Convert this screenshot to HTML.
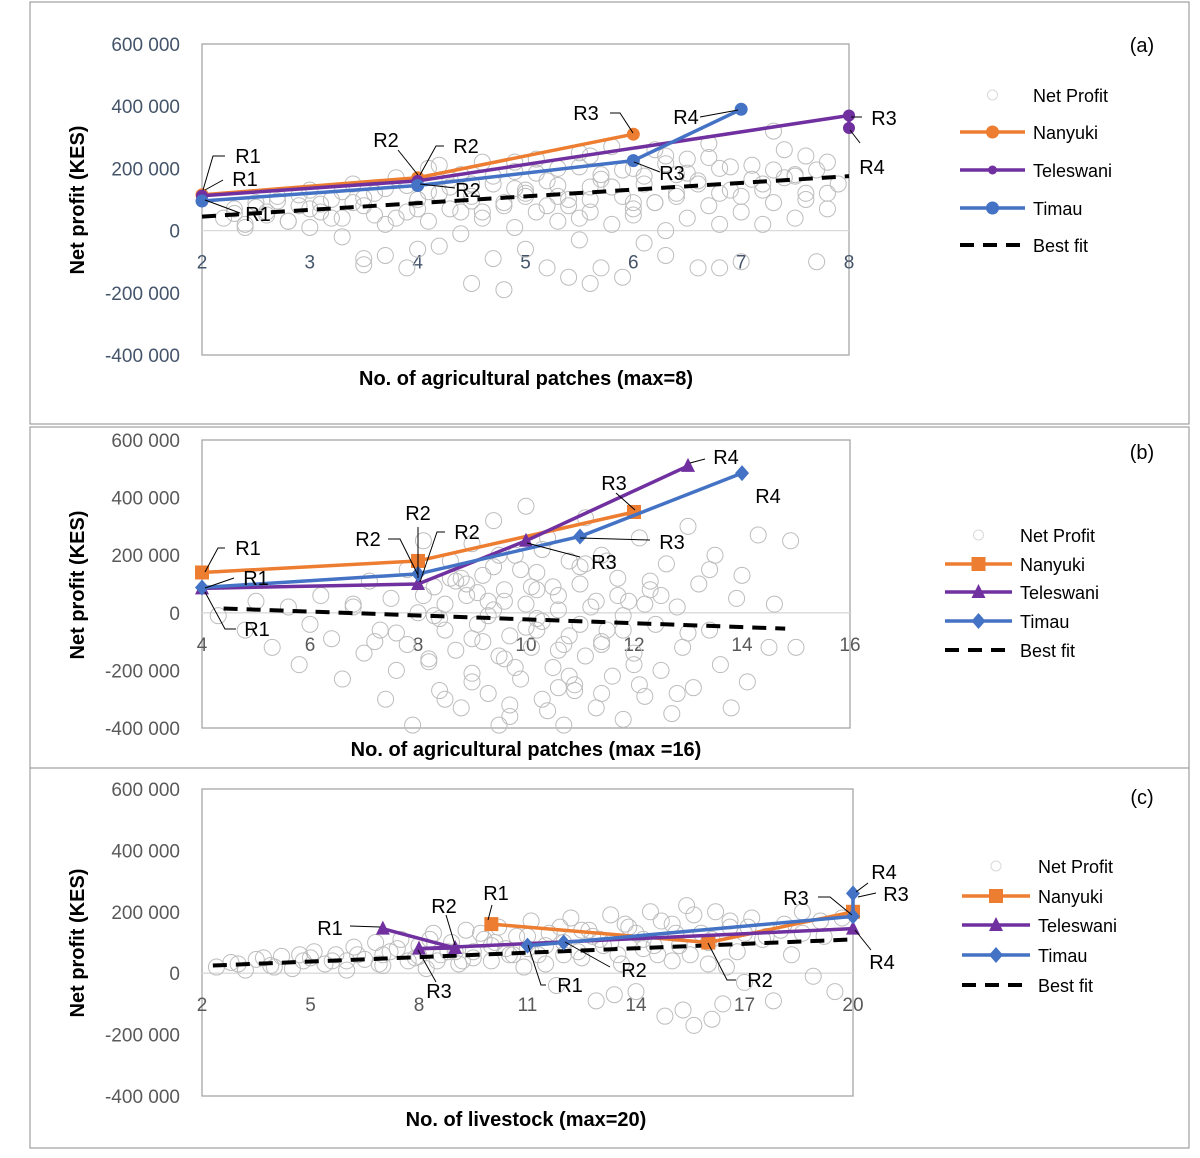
<!DOCTYPE html>
<html><head><meta charset="utf-8"><style>
html,body{margin:0;padding:0;background:#fff;}
svg{display:block;font-family:"Liberation Sans",sans-serif;}
</style></head><body>
<svg id="fig" width="1200" height="1158" viewBox="0 0 1200 1158" xmlns="http://www.w3.org/2000/svg"></svg>
<script>
// ---------- data ----------
const aScatterX=[2.2,2.3,2.4,2.5,2.6,2.7,2.8,2.9,3.0,3.0,3.1,3.2,3.3,3.3,3.4,3.5,3.5,3.6,3.7,3.7,3.8,3.9,3.9,4.0,4.1,4.1,4.2,4.3,4.3,4.4,4.4,4.5,4.5,4.6,4.6,4.7,4.7,4.8,4.8,4.9,4.9,5.0,5.0,5.1,5.1,5.2,5.2,5.3,5.3,5.4,5.4,5.5,5.5,5.6,5.6,5.7,5.7,5.8,5.8,5.9,5.9,6.0,6.0,6.1,6.1,6.2,6.2,6.3,6.3,6.4,6.4,6.5,6.5,6.6,6.6,6.7,6.7,6.8,6.8,6.9,7.0,7.0,7.1,7.2,7.2,7.3,7.4,7.5,7.5,7.6,7.7,7.8,7.8,7.9,7.3,7.6,3.5,4.0,5.6,6.8,2.6,3.4,4.2,5.0,5.8,6.6,7.4,
2.3,2.5,2.7,2.9,3.1,3.3,3.5,3.7,3.9,4.1,4.3,4.5,4.7,4.9,5.1,5.3,5.5,5.7,5.9,6.1,6.3,6.5,6.7,6.9,7.1,7.3,7.5,7.7,2.4,2.8,3.2,3.6,4.0,4.4,4.8,5.2,5.6,6.0,6.4,6.8,7.2,7.6,3.0,3.8,4.6,5.4,6.2,7.0,7.8,4.2,4.9,5.6,6.3,5.0,5.5,6.0,4.5,5.3];
const aScatterY=[40,70,20,90,50,110,30,80,10,130,60,100,-20,40,150,80,-110,120,20,-80,170,60,-120,100,30,200,-50,140,70,-10,180,110,-170,40,220,-90,150,80,-190,190,10,120,-60,230,60,160,-120,30,200,100,-150,250,-30,140,60,180,-120,20,270,110,-150,200,50,-40,150,260,90,0,-80,180,120,40,230,-120,160,80,280,20,200,130,-100,60,210,150,20,90,260,180,40,120,-100,220,70,150,320,240,-90,-60,-170,-120,60,90,120,110,140,150,170,
55,75,95,115,85,125,105,135,145,125,165,95,175,135,185,145,205,165,195,175,215,185,235,205,165,195,175,195,10,30,40,50,70,60,90,80,100,90,110,120,130,100,70,40,60,80,90,110,120,210,220,240,240,130,40,70,150,110];
const aNanX=[2,4,6], aNanY=[115,170,310];
const aTelX=[2,4,8,8], aTelY=[112,160,370,330];
const aTimX=[2,4,6,7], aTimY=[95,145,225,390];
const aFitX=[2,8], aFitY=[45,175];

const bScatterX=[4.3,4.8,5.0,5.3,5.6,5.8,6.0,6.2,6.4,6.6,6.8,7.0,7.1,7.3,7.4,7.5,7.6,7.8,7.8,7.9,8.0,8.1,8.2,8.3,8.4,8.5,8.5,8.6,8.7,8.8,8.9,9.0,9.0,9.1,9.2,9.3,9.4,9.4,9.5,9.6,9.7,9.7,9.8,9.9,10.0,10.0,10.1,10.2,10.3,10.3,10.4,10.5,10.6,10.7,10.8,10.8,10.9,11.0,11.1,11.1,11.2,11.3,11.4,11.5,11.6,11.7,11.8,11.9,12.0,12.1,12.2,12.3,12.4,12.5,12.6,12.7,12.8,12.9,13.0,13.1,13.2,13.4,13.5,13.6,13.8,13.9,14.0,14.1,14.3,14.5,14.6,14.9,15.0,9.5,10.4,8.3,9.2,10.6,11.4,12.5,8.8,9.6,10.2,11.0,11.8,
8.1,8.4,8.7,9.0,9.3,9.6,9.9,10.2,10.5,10.8,11.1,11.4,11.7,12.0,12.3,8.2,8.6,9.0,9.4,9.8,10.2,10.6,11.0,11.4,11.8,12.2,8.5,9.1,9.7,10.3,10.9,11.5,12.1,7.6,7.2,6.8,13.0,13.4,12.8,9.3,10.0,10.7,11.3,8.9,9.5,10.1,10.6];
const bScatterY=[-10,-60,40,-120,20,-180,-40,60,-90,-230,20,-140,110,-60,-300,50,-200,150,-110,-390,0,250,-170,90,-270,30,-60,180,-130,-330,60,-210,240,-40,130,-280,10,320,-150,80,-360,-80,200,-230,30,370,-120,140,-300,-30,260,-190,60,-390,180,-80,-250,100,330,-150,20,-330,200,-60,-220,120,-370,40,-140,260,-290,80,-40,-200,170,-350,20,-120,300,-260,100,-60,200,-180,-330,50,130,-240,270,-120,30,250,-120,-390,-340,-10,-100,-130,-100,60,120,40,-20,160,-60,
60,-20,110,-90,40,-160,150,-60,90,-220,170,-110,60,-180,110,-160,120,-240,160,-190,80,-260,-40,-280,-10,30,-300,70,-320,220,-270,180,-250,-70,-100,30,-70,150,-280,-10,-50,-110,40,100,200,90,10];
const bNanX=[4,8,12], bNanY=[140,180,350];
const bTelX=[4,8,10,13], bTelY=[85,100,250,510];
const bTimX=[4,8,11,14], bTimY=[88,135,265,485];
const bFitX=[4.4,14.8], bFitY=[15,-55];

const cScatterX=[2.4,2.8,3.2,3.5,3.9,4.2,4.5,4.8,5.1,5.4,5.7,6.0,6.2,6.5,6.8,7.0,7.2,7.5,7.7,8.0,8.2,8.4,8.6,8.9,9.1,9.3,9.5,9.8,10.0,10.2,10.4,10.7,10.9,11.1,11.3,11.6,11.8,12.0,12.2,12.5,12.7,12.9,13.1,13.3,13.6,13.8,14.0,14.2,14.4,14.6,14.8,15.0,15.2,15.4,15.6,15.8,16.0,16.2,16.4,16.6,16.8,17.0,17.2,17.5,17.8,18.0,18.3,18.6,18.9,19.2,19.5,19.7,3.0,4.0,5.0,6.0,7.0,8.0,9.0,10.0,11.0,12.0,13.0,14.0,15.0,16.0,17.0,15.3,16.1,13.4,
6.3,6.9,7.4,7.9,8.3,8.8,9.2,9.7,10.1,10.6,11.0,11.5,11.9,12.4,12.8,13.3,13.7,14.2,14.7,15.1,15.6,16.1,16.6,17.1,17.6,18.1,18.6,19.1,8.5,9.5,10.5,11.5,12.5,13.5,14.5,15.5,16.5,4.7,5.6,3.7];
const cScatterY=[20,35,10,45,25,55,15,40,70,30,60,10,85,45,100,25,70,110,40,90,15,130,60,100,30,140,70,110,40,150,80,120,20,170,60,130,-40,100,180,50,140,-90,90,190,30,150,-60,110,200,60,-140,160,90,220,-170,130,30,200,-100,150,70,-30,180,110,-90,140,60,200,-10,120,-60,180,30,20,50,40,60,55,70,90,80,60,110,130,40,100,130,-120,-150,-70,
60,30,80,50,110,70,40,130,100,60,120,90,150,70,120,100,160,80,170,130,190,110,170,150,120,160,130,170,40,50,60,30,140,60,90,60,20,60,40,50];
const cNanX=[10,16,20], cNanY=[160,100,200];
const cTelX=[7,9,8,20], cTelY=[145,82,80,145];
const cTimX=[11,12,20,20], cTimY=[90,100,185,260];
const cFitX=[2.3,20], cFitY=[25,110];

const yTicks=[600,400,200,0,-200,-400];
const aXTicks=[2,3,4,5,6,7,8];
const bXTicks=[4,6,8,10,12,14,16];
const cXTicks=[2,5,8,11,14,17,20];

// ---------- drawing ----------
const NS="http://www.w3.org/2000/svg";
const svg=document.getElementById('fig');
function el(tag,attrs,parent){const e=document.createElementNS(NS,tag);for(const k in attrs)e.setAttribute(k,attrs[k]);(parent||svg).appendChild(e);return e;}
const OR='#ED7D31',PU='#7030A0',BL='#4472C4';
function fmt(v){if(v===0)return '0';const s=Math.abs(v)+' 000';return (v<0?'-':'')+s;}

function panel(cfg){
  const g=el('g',{});
  
  
  const sx=v=>cfg.px0+(v-cfg.x0)/(cfg.x1-cfg.x0)*(cfg.px1-cfg.px0);
  const sy=v=>cfg.py0+(600-v)/1000*(cfg.py1-cfg.py0);
  const fr=el('rect',{x:30,y:cfg.fy0,width:1159,height:cfg.fy1-cfg.fy0,fill:'none',stroke:'#8c8c8c','stroke-width':1},g);
  
  
  const pb=el('rect',{x:cfg.px0,y:cfg.py0,width:cfg.px1-cfg.px0,height:cfg.py1-cfg.py0,fill:'none',stroke:'#a6a6a6','stroke-width':1.3},g);
  
  
  const zl=el('line',{x1:cfg.px0,x2:cfg.px1,y1:sy(0),y2:sy(0),stroke:'#d9d9d9','stroke-width':1.3},g);
  
  
  yTicks.forEach(v=>{const t=el('text',{x:180,y:sy(v)+7,'text-anchor':'end','font-size':19,fill:cfg.tickColor},g);t.textContent=fmt(v);
    
    });
  cfg.xTicks.forEach(v=>{const t=el('text',{x:sx(v),y:sy(0)+38,'text-anchor':'middle','font-size':19,fill:cfg.tickColor},g);t.textContent=v;
    
    });
  const yt=el('text',{x:0,y:0,transform:`translate(84,${cfg.ytY}) rotate(-90)`,'text-anchor':'middle','font-size':20,'font-weight':'bold'},g);
  yt.textContent='Net profit (KES)';
  
  
  const xt=el('text',{x:526,y:cfg.xtY,'text-anchor':'middle','font-size':20,'font-weight':'bold'},g);
  xt.textContent=cfg.xTitle;
  
  
  const pl=el('text',{x:1142,y:cfg.letterY,'text-anchor':'middle','font-size':20},g);
  pl.textContent=cfg.letter;
  
  
  cfg.sx.forEach((x,i)=>{const c=el('circle',{cx:sx(x),cy:sy(cfg.sy[i]),r:8,fill:'none',stroke:'#bdbdbd','stroke-width':1},g);
    
    });
  const bf=el('line',{x1:sx(cfg.fit[0][0]),y1:sy(cfg.fit[1][0]),x2:sx(cfg.fit[0][1]),y2:sy(cfg.fit[1][1]),stroke:'#000','stroke-width':4,'stroke-dasharray':'14 9'},g);
  
  
  cfg.series.forEach(s=>{
    const pts=s.x.map((x,i)=>sx(x)+','+sy(s.y[i])).join(' ');
    const p=el('polyline',{points:pts,fill:'none',stroke:s.color,'stroke-width':3.5,'stroke-linejoin':'round'},g);
    
    
    s.x.forEach((x,i)=>{const m=marker(g,s.shape,sx(x),sy(s.y[i]),s.color,s.size);
      
      });
  });
  cfg.ann.forEach(a=>{
    const l=el('polyline',{points:a[3],fill:'none',stroke:'#000','stroke-width':1},g);
    
    
    const t=el('text',{x:a[1],y:a[2]+7,'text-anchor':'middle','font-size':20},g);
    t.textContent=a[0];
    
    
  });
  const L=cfg.leg;
  const names=['Net Profit','Nanyuki','Teleswani','Timau','Best fit'];
  names.forEach((n,i)=>{
    const y=L.ys[i];const mx=(L.x0+L.x1)/2;
    if(i===0){const c=el('circle',{cx:mx,cy:y,r:5,fill:'none',stroke:'#d9d9d9'},g);
      
      }
    else if(i===4){const l=el('line',{x1:L.x0,x2:L.x1,y1:y,y2:y,stroke:'#000','stroke-width':4,'stroke-dasharray':'14 9'},g);
      
      }
    else{const s=cfg.series[i-1];
      const l=el('line',{x1:L.x0,x2:L.x1,y1:y,y2:y,stroke:s.color,'stroke-width':3.5},g);
      
      
      const m=marker(g,s.shape,mx,y,s.color,s.size*(i===2&&cfg.id==='a'?0.75:1));
      
      }
    const t=el('text',{x:L.tx,y:y+7,'font-size':18},g);
    t.textContent=n;
    
    
  });
}
function marker(g,shape,x,y,color,s){
  if(shape==='circle')return el('circle',{cx:x,cy:y,r:s,fill:color},g);
  if(shape==='square')return el('rect',{x:x-s,y:y-s,width:2*s,height:2*s,fill:color},g);
  if(shape==='tri')return el('polygon',{points:`${x},${y-s-1} ${x-s},${y+s-1} ${x+s},${y+s-1}`,fill:color},g);
  return el('polygon',{points:`${x},${y-s-1} ${x+s},${y} ${x},${y+s+1} ${x-s},${y}`,fill:color},g);
}

panel({id:'a',fy0:2,fy1:424,px0:202,px1:849,py0:44,py1:355,x0:2,x1:8,xTicks:aXTicks,tickColor:'#44546A',
  ytY:200,xtY:385,xTitle:'No. of agricultural patches (max=8)',letter:'(a)',letterY:52,
  sx:aScatterX,sy:aScatterY,fit:[aFitX,aFitY],
  series:[{name:'nanyuki',x:aNanX,y:aNanY,color:OR,shape:'circle',size:6.5},
          {name:'teleswani',x:aTelX,y:aTelY,color:PU,shape:'circle',size:6},
          {name:'timau',x:aTimX,y:aTimY,color:BL,shape:'circle',size:6.5}],
  ann:[['R1',248,156,'225,156 213,156 203,190'],['R1',245,179,'223,180 205,190'],['R1',258,214,'240,213 205,200'],
       ['R2',386,140,'398,150 418,175'],['R2',466,146,'444,146 436,146 420,175'],['R2',468,190,'455,188 420,184'],
       ['R3',586,113,'610,113 620,113 633,133'],['R3',672,173,'660,172 634,162'],['R4',686,117,'700,117 738,110'],
       ['R3',884,118,'862,117 851,117'],['R4',872,167,'860,143 850,130']],
  leg:{x0:960,x1:1025,tx:1033,ys:[95,132,170,208,245]}});

panel({id:'b',fy0:427,fy1:768,px0:202,px1:850,py0:440,py1:728,x0:4,x1:16,xTicks:bXTicks,tickColor:'#595959',
  ytY:585,xtY:756,xTitle:'No. of agricultural patches (max =16)',letter:'(b)',letterY:459,
  sx:bScatterX,sy:bScatterY,fit:[bFitX,bFitY],
  series:[{name:'nanyuki',x:bNanX,y:bNanY,color:OR,shape:'square',size:7},
          {name:'teleswani',x:bTelX,y:bTelY,color:PU,shape:'tri',size:7},
          {name:'timau',x:bTimX,y:bTimY,color:BL,shape:'diamond',size:7}],
  ann:[['R1',248,548,'225,548 218,548 205,572'],['R1',256,578,'234,578 205,588'],['R1',257,629,'236,629 225,629 205,592'],
       ['R2',368,539,'388,539 400,539 418,575'],['R2',418,513,'418,527 418,578'],['R2',467,532,'445,532 437,532 420,582'],
       ['R3',614,483,'616,493 635,510'],['R3',672,542,'650,540 580,538'],['R3',604,562,'580,557 527,543'],
       ['R4',726,457,'705,459 690,463'],['R4',768,496,'768,496 768,496']],
  leg:{x0:945,x1:1012,tx:1020,ys:[535,564,592,621,650]}});

panel({id:'c',fy0:768,fy1:1148,px0:202,px1:853,py0:789,py1:1096,x0:2,x1:20,xTicks:cXTicks,tickColor:'#595959',
  ytY:943,xtY:1126,xTitle:'No. of livestock (max=20)',letter:'(c)',letterY:804,
  sx:cScatterX,sy:cScatterY,fit:[cFitX,cFitY],
  series:[{name:'nanyuki',x:cNanX,y:cNanY,color:OR,shape:'square',size:7},
          {name:'teleswani',x:cTelX,y:cTelY,color:PU,shape:'tri',size:7},
          {name:'timau',x:cTimX,y:cTimY,color:BL,shape:'diamond',size:7}],
  ann:[['R1',496,893,'492,905 488,920'],['R1',330,928,'350,926 380,927'],['R2',444,906,'446,915 455,945'],
       ['R3',439,991,'436,982 418,950'],['R1',570,985,'546,985 541,985 528,945'],['R2',634,970,'610,967 565,942'],
       ['R2',760,980,'736,980 727,980 708,943'],['R3',796,898,'818,897 830,897 852,915'],['R4',884,872,'868,883 856,892'],
       ['R3',896,894,'876,893 858,897'],['R4',882,962,'871,950 855,930']],
  leg:{x0:962,x1:1030,tx:1038,ys:[866,896,925,955,985]}});
</script>
</body></html>
